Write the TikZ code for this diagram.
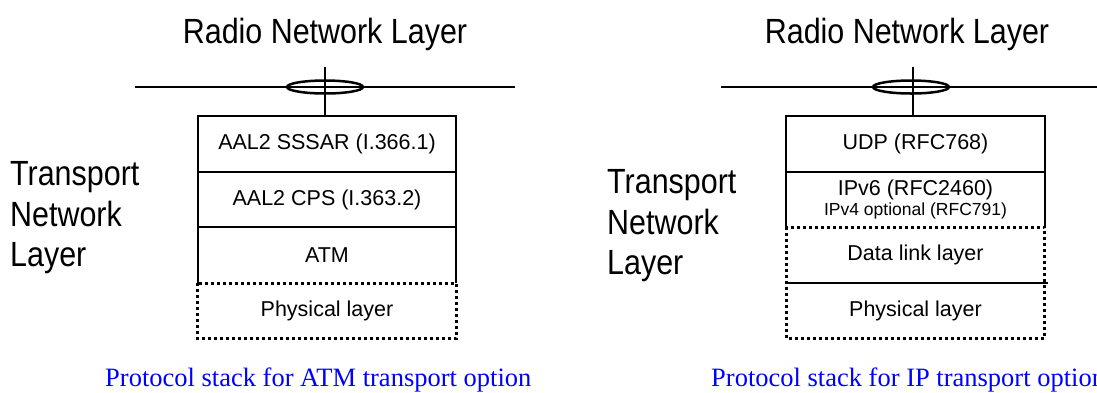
\documentclass[tikz,border=0pt]{standalone}
\usepackage{fontspec}
\setmainfont{Liberation Serif}
\newfontfamily\narrowsans[FakeStretch=0.87]{Liberation Sans}
\newfontfamily\layersans{Liberation Sans}
\usetikzlibrary{positioning,shapes.geometric}
\tikzset{
  layer/.style={minimum width=258pt, minimum height=55.25pt, inner sep=0pt,
    font=\layersans\fontsize{21.5}{24}\selectfont},
  solidline/.style={line width=2pt},
  dotline/.style={line width=3pt, dash pattern=on 3pt off 3pt},
  sap/.style={ellipse, draw, line width=2.5pt, minimum width=76pt, minimum height=13pt, inner sep=0pt},
  bigtext/.style={font=\narrowsans\fontsize{35}{40.5}\selectfont, inner sep=0pt},
  caption/.style={font=\fontsize{26.5}{30}\selectfont, text=blue, inner sep=0pt}
}
\begin{document}
\begin{tikzpicture}[x=1pt,y=-1pt]
            \useasboundingbox (0,0) rectangle (1097,392);
            % ATM transport option
            \node[bigtext, anchor=base] (rnlA) at (325,43) {Radio Network Layer};
            \node[bigtext, anchor=west, align=left] (tnlA) at (10,218) {Transport\\Network\\Layer};
            \node[layer] (sssar) at (327,144) {AAL2 SSSAR (I.366.1)};
            \node[layer, below=0pt of sssar] (cps) {AAL2 CPS (I.363.2)};
            \node[layer, below=0pt of cps] (atm) {ATM};
            \node[layer, below=0pt of atm] (phyA) {Physical layer};
            \draw[solidline] (atm.south west) |- (sssar.north east) -- (atm.south east);
            \draw[solidline] (cps.north west) -- (cps.north east) (atm.north west) -- (atm.north east);
            \draw[dotline] (phyA.north west) rectangle (phyA.south east);
            \coordinate (busAw) at (135,87);
            \coordinate (busAe) at (515,87);
            \coordinate (feedA) at (325,67);
            \draw[solidline] (busAw) -- (busAe);
            \draw[solidline] (feedA) -- (feedA |- sssar.north);
            \node[sap] (sapA) at (325,87) {};
            \node[caption, anchor=base west] (capA) at (105,386) {Protocol stack for ATM transport option};
            % IP transport option
            \node[bigtext, anchor=base] (rnlB) at (907,43) {Radio Network Layer};
            \node[bigtext, anchor=west, align=left] (tnlB) at (607,226) {Transport\\Network\\Layer};
            \node[layer] (udp) at (915.5,144) {UDP (RFC768)};
            \node[layer, below=0pt of udp, align=center] (ipv) {IPv6 (RFC2460)\\[-4pt]{\fontsize{17.5}{18}\selectfont IPv4 optional (RFC791)}};
            \node[layer, below=0pt of ipv] (dlink) {Data link layer};
            \node[layer, below=0pt of dlink] (phyB) {Physical layer};
            \draw[solidline] (ipv.south west) |- (udp.north east) -- (ipv.south east);
            \draw[solidline] (ipv.north west) -- (ipv.north east);
            \draw[dotline] (dlink.north west) rectangle (phyB.south east);
            \draw[solidline] (phyB.north west) -- ([xshift=3pt]phyB.north east);
            \coordinate (busBw) at (721,87);
            \coordinate (busBe) at (1097,87);
            \coordinate (feedB) at (913,67);
            \draw[solidline] (busBw) -- (busBe);
            \draw[solidline] (feedB) -- (feedB |- udp.north);
            \node[sap] (sapB) at (911,87) {};
            \node[caption, anchor=base west] (capB) at (711,386) {Protocol stack for IP transport option};
\end{tikzpicture}
\end{document}
